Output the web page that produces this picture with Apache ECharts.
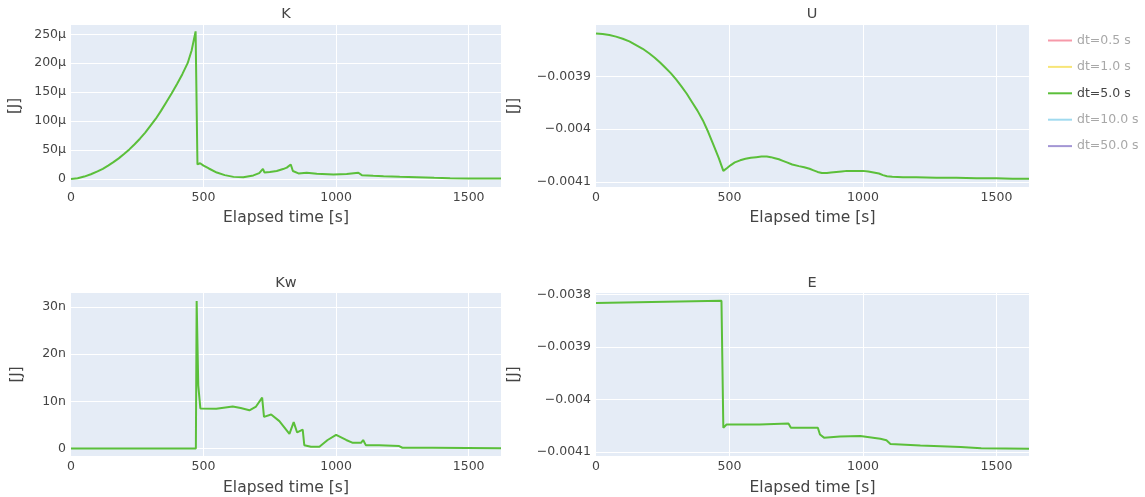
<!DOCTYPE html>
<html>
<head>
<meta charset="utf-8">
<script src="https://cdn.jsdelivr.net/npm/echarts@6/dist/echarts.min.js"></script>
<style>
html,body{margin:0;padding:0;background:#fff;}
#chart{width:1145px;height:497px;}
</style>
</head>
<body>
<div id="chart"></div>
<script>
// ---- data ----
const legendNames = ['dt=0.5 s', 'dt=1.0 s', 'dt=5.0 s', 'dt=10.0 s', 'dt=50.0 s'];
const legendColors = ['#f4879a', '#f6e160', '#5bbf3a', '#8fd3ec', '#9384cc'];
const activeSeries = 'dt=5.0 s';
const subplotTitles = ['K', 'U', 'Kw', 'E'];

// K [s, µJ]
const kTime = [0,25,50,75,100,120,140,160,180,200,220,240,260,280,300,320,340,360,380,400,420,440,455,470,477,481,487,500,520,550,580,613,650,688,710,724,730,750,776,800,814,829,837,858,889,927,990,1040,1084,1097,1140,1179,1240,1305,1370,1430,1500,1622];
const kValues = [0,1,4,8,13,17.5,23,29,35.5,43,51,60,69.5,80,92,104,118,133,148,164,181,200,222,255,25,22,27,23,18,11,6.5,3.5,3,6,10,17.5,11,12,13.6,17,19.5,25,13.6,9.5,10.6,8.9,7.7,8.3,10.6,6.5,5.5,4.7,3.8,3,2,1.2,0.8,0.6];

// U [s, J]
const uTime = [0,25,50,75,100,125,150,175,200,220,240,260,280,300,320,340,360,380,400,420,440,460,477,490,505,520,540,560,580,600,620,640,655,670,685,700,715,735,760,780,800,815,830,846,865,880,900,920,940,960,980,1000,1020,1040,1060,1075,1090,1110,1150,1200,1275,1350,1425,1500,1560,1622];
const uValues = [-0.003819,-0.003820,-0.003822,-0.003825,-0.003829,-0.003834,-0.003841,-0.003848,-0.003857,-0.003865,-0.003874,-0.003884,-0.003894,-0.003906,-0.003919,-0.003933,-0.003949,-0.003965,-0.003983,-0.004005,-0.004030,-0.004055,-0.004079,-0.004074,-0.004068,-0.004063,-0.004059,-0.004056,-0.004054,-0.004053,-0.004052,-0.004052,-0.004053,-0.004055,-0.004057,-0.004060,-0.004063,-0.004067,-0.004070,-0.004072,-0.004075,-0.004078,-0.004081,-0.004083,-0.004083,-0.004082,-0.004081,-0.004080,-0.004079,-0.004079,-0.004079,-0.004079,-0.004080,-0.004082,-0.004084,-0.004087,-0.004089,-0.004090,-0.004091,-0.004091,-0.004092,-0.004092,-0.004093,-0.004093,-0.004094,-0.004094];

// Kw [s, nJ]
const kwTime = [0,471,474,480,488,548,610,640,673,698,721,728,755,786,824,840,853,874,880,905,937,968,1000,1038,1063,1094,1102,1112,1162,1238,1250,1363,1622];
const kwValues = [0,0,31.3,13.4,8.5,8.45,8.9,8.6,8.1,8.9,10.8,6.7,7.2,5.8,3.1,5.6,3.4,4.0,0.7,0.36,0.36,1.8,2.9,1.8,1.2,1.2,1.8,0.7,0.7,0.5,0.15,0.15,0.02];

// E [s, J]
const eTime = [0,470,477,480,489,613,721,730,831,839,854,914,990,1065,1088,1103,1215,1366,1443,1622];
const eValues = [-0.003816,-0.003812,-0.004054,-0.004057,-0.004048,-0.004048,-0.004046,-0.004054,-0.004054,-0.004067,-0.004073,-0.004071,-0.004070,-0.004075,-0.004078,-0.004085,-0.004088,-0.004091,-0.004093,-0.004094];

// axis ranges
const xRange = [0, 1622];
const kRange = [-14, 266];
const uRange = [-0.0041095, -0.003803];
const kwRange = [-1.6, 33];
const eRange = [-0.004108, -0.003797];

// ---- chart ----
const zip = (a, b) => a.map((t, i) => [t, b[i]]);
const FONT = 'DejaVu Sans, Verdana, sans-serif';
const TXT = '#444';

const grids = [
  {left: 71, top: 25, width: 430, height: 162},
  {left: 596, top: 25, width: 433, height: 162},
  {left: 71, top: 293, width: 430, height: 163},
  {left: 596, top: 293, width: 433, height: 163}
].map(g => Object.assign(g, {show: true, backgroundColor: '#e5ecf6', borderWidth: 0, containLabel: false}));

const minus = s => s.replace('-', '\u2212');
const multipleOf = (v, step) => Math.abs(v / step - Math.round(v / step)) < 1e-6;

const fmtSI = (suffix, step) => v => multipleOf(v, step) ? (Math.round(v) === 0 ? '0' : Math.round(v) + suffix) : '';
const fmtJ = v => {
  if (!multipleOf(v, 0.0001)) return '';
  return minus(String(Number(v.toFixed(4))));
};

function xAxis(i) {
  return {
    type: 'value', gridIndex: i, min: xRange[0], max: xRange[1], interval: 500,
    name: 'Elapsed time [s]', nameLocation: 'middle', nameGap: i < 2 ? 23 : 24,
    nameTextStyle: {color: TXT, fontSize: 15.5, fontFamily: FONT},
    axisLine: {show: false}, axisTick: {show: false},
    axisLabel: {color: TXT, fontSize: 12.5, fontFamily: FONT, margin: 4,
      formatter: v => multipleOf(v, 500) ? String(Math.round(v)) : ''},
    splitLine: {show: true, lineStyle: {color: '#fff', width: 1}, showMinLine: false, showMaxLine: false}
  };
}
function yAxis(i, range, split, fmt, gap) {
  return {
    type: 'value', gridIndex: i, min: range[0], max: range[1], splitNumber: split,
    name: '[J]', nameLocation: 'middle', nameGap: gap,
    nameTextStyle: {color: TXT, fontSize: 15, fontFamily: FONT},
    axisLine: {show: false}, axisTick: {show: false},
    axisLabel: {color: TXT, fontSize: 12.5, fontFamily: FONT, margin: 5, formatter: fmt, showMinLabel: false, showMaxLabel: false},
    splitLine: {show: true, lineStyle: {color: '#fff', width: 1}, showMinLine: false, showMaxLine: false}
  };
}

const lineSeries = (i, data) => ({
  name: activeSeries, type: 'line', xAxisIndex: i, yAxisIndex: i, data,
  showSymbol: false, symbol: 'none', lineStyle: {width: 2, color: legendColors[2]},
  itemStyle: {color: legendColors[2]}, animation: false
});

const series = [
  lineSeries(0, zip(kTime, kValues)),
  lineSeries(1, zip(uTime, uValues)),
  lineSeries(2, zip(kwTime, kwValues)),
  lineSeries(3, zip(eTime, eValues))
];
// traces hidden in the original (legend only)
legendNames.forEach((n, k) => {
  if (n !== activeSeries) series.push({
    name: n, type: 'line', xAxisIndex: 0, yAxisIndex: 0, data: [], symbol: 'none',
    lineStyle: {color: legendColors[k], width: 2}, itemStyle: {color: legendColors[k]}
  });
});

const titleCenters = [[286, 7], [812, 7], [286, 276], [812, 276]];

const option = {
  animation: false,
  textStyle: {fontFamily: FONT},
  title: subplotTitles.map((t, i) => ({
    text: t, left: titleCenters[i][0], top: titleCenters[i][1], textAlign: 'center', padding: 0,
    textStyle: {color: TXT, fontSize: 14.5, fontWeight: 'normal', fontFamily: FONT}
  })),
  grid: grids,
  xAxis: [0, 1, 2, 3].map(xAxis),
  yAxis: [
    yAxis(0, kRange, 5, fmtSI('\u00b5', 50), 48),
    yAxis(1, uRange, 3, fmtJ, 74),
    yAxis(2, kwRange, 3, fmtSI('n', 10), 46),
    yAxis(3, eRange, 3, fmtJ, 74)
  ],
  legend: {
    orient: 'vertical', left: 1048, top: 34, padding: 0, itemWidth: 24, itemHeight: 12, itemGap: 14.3,
    selectedMode: false,
    textStyle: {fontSize: 12.5, fontFamily: FONT, color: TXT, lineHeight: 12},
    data: legendNames.map((n, k) => ({
      name: n, icon: 'path://M0,0L24,0L24,2L0,2Z',
      itemStyle: {color: legendColors[k], opacity: n === activeSeries ? 1 : 0.85},
      textStyle: {color: n === activeSeries ? TXT : '#a8a8a8'}
    }))
  },
  series
};
option.legend.itemGap = 13.4;

const chart = echarts.init(document.getElementById('chart'), null, {renderer: 'canvas'});
chart.setOption(option);
</script>
</body>
</html>
